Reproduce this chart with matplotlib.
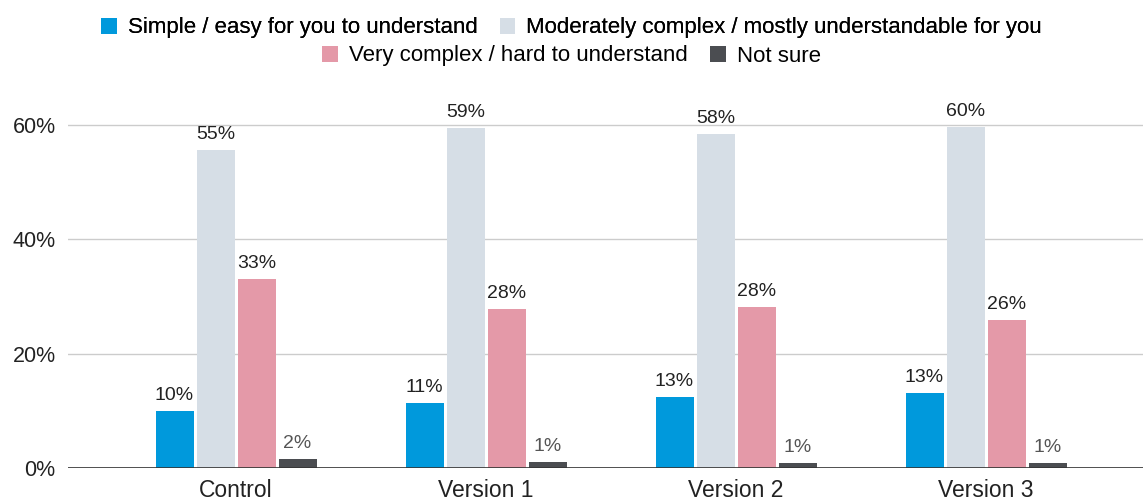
import numpy as np
import matplotlib.pyplot as plt
from matplotlib.patches import Patch

plt.rcParams['font.family'] = ['Liberation Sans', 'DejaVu Sans']

categories = ['Control', 'Version 1', 'Version 2', 'Version 3']
series_names = ['Simple / easy for you to understand',
                'Moderately complex / mostly understandable for you',
                'Very complex / hard to understand',
                'Not sure']
simple = [10.0, 11.4, 12.4, 13.1]
moderate = [55.6, 59.4, 58.4, 59.6]
very_complex = [33.0, 27.8, 28.1, 25.9]
not_sure = [1.6, 1.0, 0.9, 0.9]
value_labels = [['10%', '11%', '13%', '13%'],
                ['55%', '59%', '58%', '60%'],
                ['33%', '28%', '28%', '26%'],
                ['2%', '1%', '1%', '1%']]
colors = ['#0099dc', '#d6dee6', '#e499a8', '#4b4d51']
label_colors = ['#222222', '#222222', '#222222', '#555555']

fig = plt.figure(figsize=(11.43, 5), dpi=100)
ax = fig.add_axes([68 / 1143, 32 / 500, 1 - 68 / 1143, (468 - 96) / 500])

x = np.arange(len(categories))
width = 0.152
step = 0.164
all_series = [simple, moderate, very_complex, not_sure]
for i, vals in enumerate(all_series):
    pos = x + (i - 1.5) * step
    bars = ax.bar(pos, vals, width, color=colors[i], zorder=3)
    for b, lab in zip(bars, value_labels[i]):
        ax.annotate(lab, (b.get_x() + b.get_width() / 2, b.get_height()),
                    xytext=(0, 5), textcoords='offset points',
                    ha='center', va='bottom', fontsize=14,
                    color=label_colors[i])

ax.set_xlim(-0.672, 3.628)
ax.set_ylim(0, 65)
ax.set_yticks([0, 20, 40, 60])
ax.set_yticklabels(['0%', '20%', '40%', '60%'])
ax.set_xticks(x)
ax.set_xticklabels(categories)
ax.tick_params(axis='both', length=0, colors='#222222')
ax.tick_params(axis='x', pad=8, labelsize=16.5)
ax.tick_params(axis='y', pad=9, labelsize=15.5)
ax.grid(axis='y', color='#cccccc', linewidth=1, zorder=0)
for s in ax.spines.values():
    s.set_visible(False)
ax.axhline(0, color='#333333', linewidth=1.2, zorder=4)

handles = [Patch(facecolor=c, edgecolor='none') for c in colors]
leg1 = fig.legend(handles[:2], series_names[:2], loc='center', ncol=2,
                  bbox_to_anchor=(0.5, 1 - 28 / 500), frameon=False,
                  fontsize=16, handlelength=0.7, handleheight=0.7,
                  handletextpad=0.5, columnspacing=1.0)
fig.add_artist(leg1)
fig.legend(handles[2:], series_names[2:], loc='center', ncol=2,
           bbox_to_anchor=(0.5, 1 - 56 / 500), frameon=False,
           fontsize=16, handlelength=0.7, handleheight=0.7,
           handletextpad=0.5, columnspacing=1.0)

fig.savefig('out.png', dpi=100)
